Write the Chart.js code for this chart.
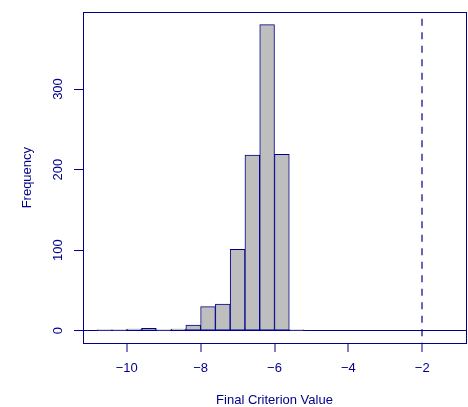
<!DOCTYPE html>
<html>
<head>
<meta charset="utf-8">
<script src="https://cdn.jsdelivr.net/npm/chart.js@4/dist/chart.umd.min.js"></script>
<style>
  html, body { margin: 0; padding: 0; background: #ffffff; }
  #wrap { width: 468px; height: 407px; }
</style>
</head>
<body>
<div id="wrap"><canvas id="hist" width="468" height="407"></canvas></div>
<script>
// histogram bins (width 0.4), centres and counts
const binCenters = [-10.6, -10.2, -9.8, -9.4, -9.0, -8.6, -8.2, -7.8, -7.4, -7.0, -6.6, -6.2, -5.8, -5.4];
const binCounts = [1, 1, 2, 3, 1, 2, 7, 30, 33, 101, 218, 380, 219, 1];

const xTicks = [-10, -8, -6, -4, -2];
const yTicks = [0, 100, 200, 300];
const criterionLine = -2;

const navy = '#00008B';

Chart.defaults.font.family = '"Liberation Sans", Arial, Helvetica, sans-serif';
Chart.defaults.font.size = 13;
Chart.defaults.color = navy;

const fmt = v => (v < 0 ? '\u2212' + Math.abs(v) : String(v));

new Chart(document.getElementById('hist'), {
    type: 'bar',
    data: {
        datasets: [{
            label: 'Frequency',
            data: binCenters.map((x, i) => ({ x, y: binCounts[i] })),
            backgroundColor: '#BEBEBE',
            borderColor: navy,
            borderWidth: 1,
            borderSkipped: false,
            barPercentage: 1,
            categoryPercentage: 1
        }]
    },
    options: {
        responsive: false,
        animation: false,
        layout: { padding: { top: 10, right: 2, left: 0, bottom: 0 } },
        plugins: { legend: { display: false }, tooltip: { enabled: false } },
        scales: {
            x: {
                type: 'linear',
                position: 'bottom',
                offset: false,
                min: -11.184,
                max: -0.816,
                afterBuildTicks: s => { s.ticks = xTicks.map(v => ({ value: v })); },
                afterFit: s => { s.height = 64; },
                ticks: { padding: 9, maxRotation: 0, callback: v => fmt(v) },
                grid: {
                    offset: false,
                    drawOnChartArea: true,
                    color: c => (c.tick && c.tick.value === criterionLine ? 'rgba(0,0,139,0.6)' : 'rgba(0,0,0,0)'),
                    lineWidth: c => (c.tick && c.tick.value === criterionLine ? 2 : 0),
                    tickColor: navy,
                    tickLength: 9,
                    tickWidth: 1
                },
                border: {
                    display: true,
                    color: navy,
                    width: 1,
                    dash: c => (c.tick && c.tick.value === criterionLine ? [7, 6.5] : []),
                    dashOffset: 7
                },
                title: {
                    display: true,
                    text: 'Final Criterion Value',
                    color: navy,
                    font: { size: 13 },
                    padding: { top: 0, bottom: -1 }
                }
            },
            xTop: {
                type: 'linear',
                axis: 'x',
                position: 'top',
                offset: false,
                min: -11.184,
                max: -0.816,
                afterFit: s => { s.height = 0; },
                ticks: { display: false },
                grid: { display: false, offset: false },
                border: { display: true, color: navy, width: 1 }
            },
            y: {
                type: 'linear',
                position: 'left',
                min: -15.2,
                max: 395.2,
                afterBuildTicks: s => { s.ticks = yTicks.map(v => ({ value: v })); },
                afterFit: s => { s.width = 83; },
                ticks: {
                    padding: 4.5,
                    minRotation: 90,
                    maxRotation: 90,
                    crossAlign: 'center',
                    callback: v => fmt(v)
                },
                grid: {
                    drawOnChartArea: true,
                    color: c => (c.tick && c.tick.value === 0 ? navy : 'rgba(0,0,0,0)'),
                    lineWidth: 1,
                    tickColor: navy,
                    tickLength: 9,
                    tickWidth: 1
                },
                border: { display: true, color: navy, width: 1 },
                title: {
                    display: true,
                    text: 'Frequency',
                    color: navy,
                    font: { size: 13 },
                    padding: { top: 19.5, bottom: 0 }
                }
            },
            yRight: {
                type: 'linear',
                axis: 'y',
                position: 'right',
                min: -15.2,
                max: 395.2,
                afterFit: s => { s.width = 0; },
                ticks: { display: false },
                grid: { display: false },
                border: { display: true, color: navy, width: 1 }
            }
        }
    }
});
</script>
</body>
</html>
